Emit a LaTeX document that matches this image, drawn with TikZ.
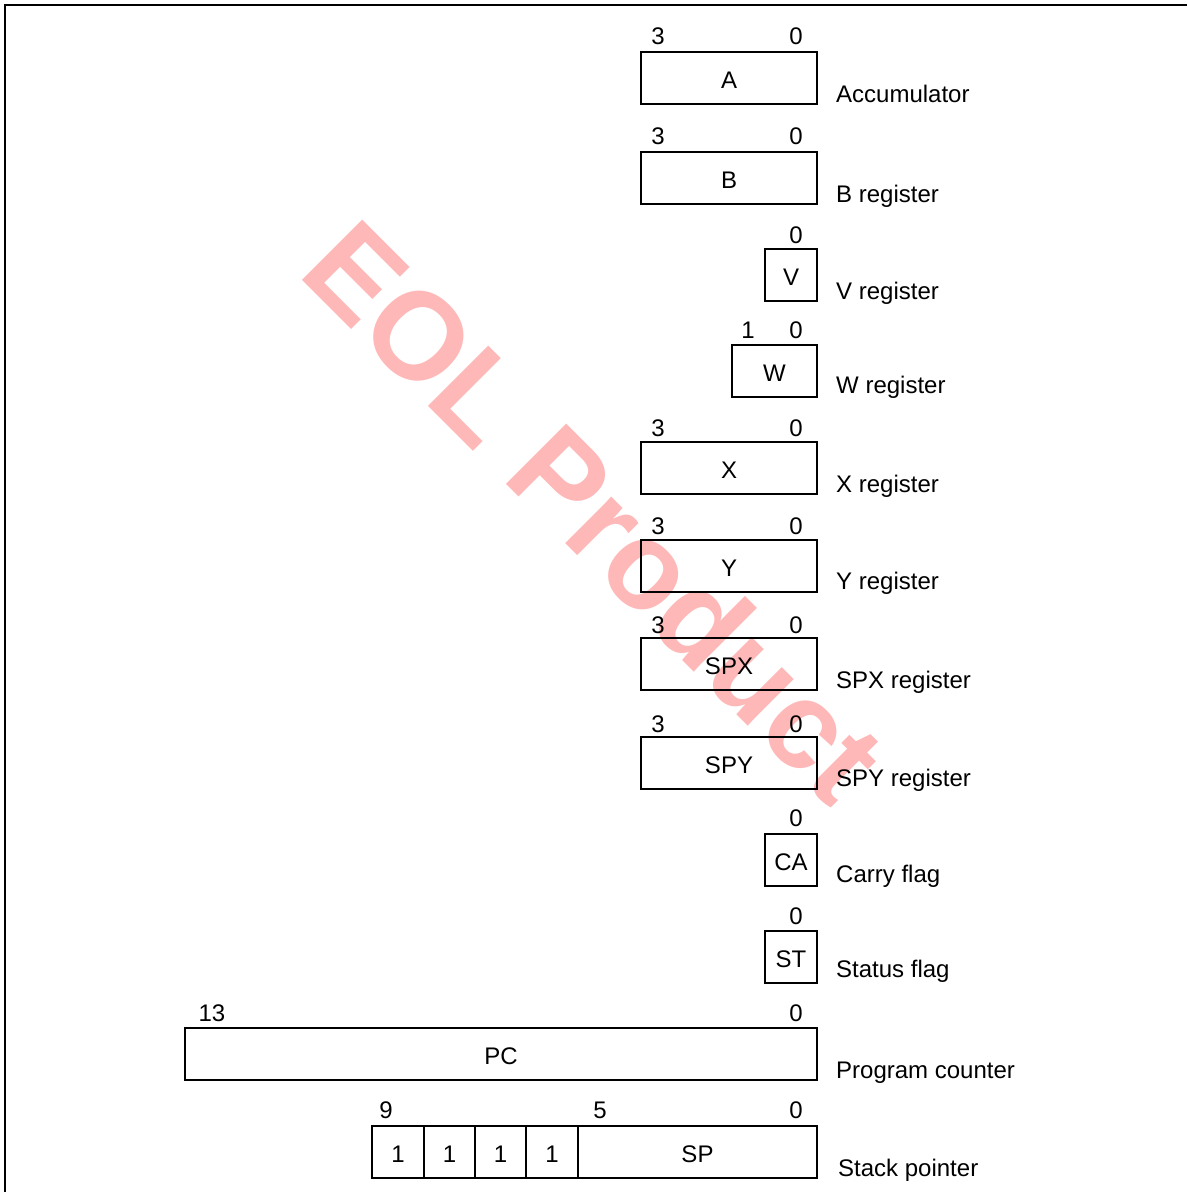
\documentclass[tikz,border=0pt]{standalone}
\usepackage{fontspec}
\setmainfont{Liberation Sans}
\definecolor{wmpink}{RGB}{255,184,184}
\begin{document}
\begin{tikzpicture}[x=1pt,y=-1pt,
  txt/.style={font=\fontsize{24}{28}\selectfont},
  reg/.style={txt, draw, line width=1.3pt, inner sep=0pt, minimum height=52pt, text height=21pt, text depth=0pt},
  bit/.style={txt, inner sep=0pt, anchor=base},
  lab/.style={txt, inner sep=0pt, anchor=base west}]
\useasboundingbox (0,0) rectangle (1187,1192);
% watermark
\node[rotate=-45, anchor=base west, text=wmpink, inner sep=0pt,
      font=\fontsize{124}{124}\selectfont\bfseries] (wm) at (296,274) {EOL Product};
% frame
\coordinate (f1) at (5,1192);
\coordinate (f2) at (5,5);
\coordinate (f3) at (1187,5);
\draw[line width=2pt] (f1) -- (f2) -- (f3);
% A
\node[reg, minimum width=176pt] (A) at (729,78) {A};
\node[bit] (A3) at (658,44) {3};
\node[bit] (A0) at (796,44) {0};
\node[lab] (Al) at (836,102) {Accumulator};
% B
\node[reg, minimum width=176pt] (B) at (729,178) {B};
\node[bit] (B3) at (658,144) {3};
\node[bit] (B0) at (796,144) {0};
\node[lab] (Bl) at (836,202) {B register};
% V
\node[reg, minimum width=52pt] (V) at (791,275) {V};
\node[bit] (V0) at (796,243) {0};
\node[lab] (Vl) at (836,299) {V register};
% W
\node[reg, minimum width=85pt] (W) at (774.5,371) {W};
\node[bit] (W1) at (748,338) {1};
\node[bit] (W0) at (796,338) {0};
\node[lab] (Wl) at (836,393) {W register};
% X
\node[reg, minimum width=176pt] (X) at (729,468) {X};
\node[bit] (X3) at (658,436) {3};
\node[bit] (X0) at (796,436) {0};
\node[lab] (Xl) at (836,492) {X register};
% Y
\node[reg, minimum width=176pt] (Y) at (729,566) {Y};
\node[bit] (Y3) at (658,534) {3};
\node[bit] (Y0) at (796,534) {0};
\node[lab] (Yl) at (836,589) {Y register};
% SPX
\node[reg, minimum width=176pt] (SPX) at (729,664) {SPX};
\node[bit] (SPX3) at (658,633) {3};
\node[bit] (SPX0) at (796,633) {0};
\node[lab] (SPXl) at (836,688) {SPX register};
% SPY
\node[reg, minimum width=176pt] (SPY) at (729,763) {SPY};
\node[bit] (SPY3) at (658,732) {3};
\node[bit] (SPY0) at (796,732) {0};
\node[lab] (SPYl) at (836,786) {SPY register};
% CA
\node[reg, minimum width=52pt] (CA) at (791,860) {CA};
\node[bit] (CA0) at (796,826) {0};
\node[lab] (CAl) at (836,882) {Carry flag};
% ST
\node[reg, minimum width=52pt] (ST) at (791,957) {ST};
\node[bit] (ST0) at (796,924) {0};
\node[lab] (STl) at (836,977) {Status flag};
% PC
\node[reg, minimum width=632pt] (PC) at (501,1054) {PC};
\node[bit] (PC13) at (212,1021) {13};
\node[bit] (PC0) at (796,1021) {0};
\node[lab] (PCl) at (836,1078) {Program counter};
% SP
\node[reg, minimum width=52pt] (S9) at (398,1152) {1};
\node[reg, minimum width=51pt] (S8) at (449.5,1152) {1};
\node[reg, minimum width=51pt] (S7) at (500.5,1152) {1};
\node[reg, minimum width=52pt] (S6) at (552,1152) {1};
\node[reg, minimum width=239pt] (SP) at (697.5,1152) {SP};
\node[bit] (SP9) at (386,1118) {9};
\node[bit] (SP5) at (600,1118) {5};
\node[bit] (SP0) at (796,1118) {0};
\node[lab] (SPl) at (838,1176) {Stack pointer};
\end{tikzpicture}
\end{document}
